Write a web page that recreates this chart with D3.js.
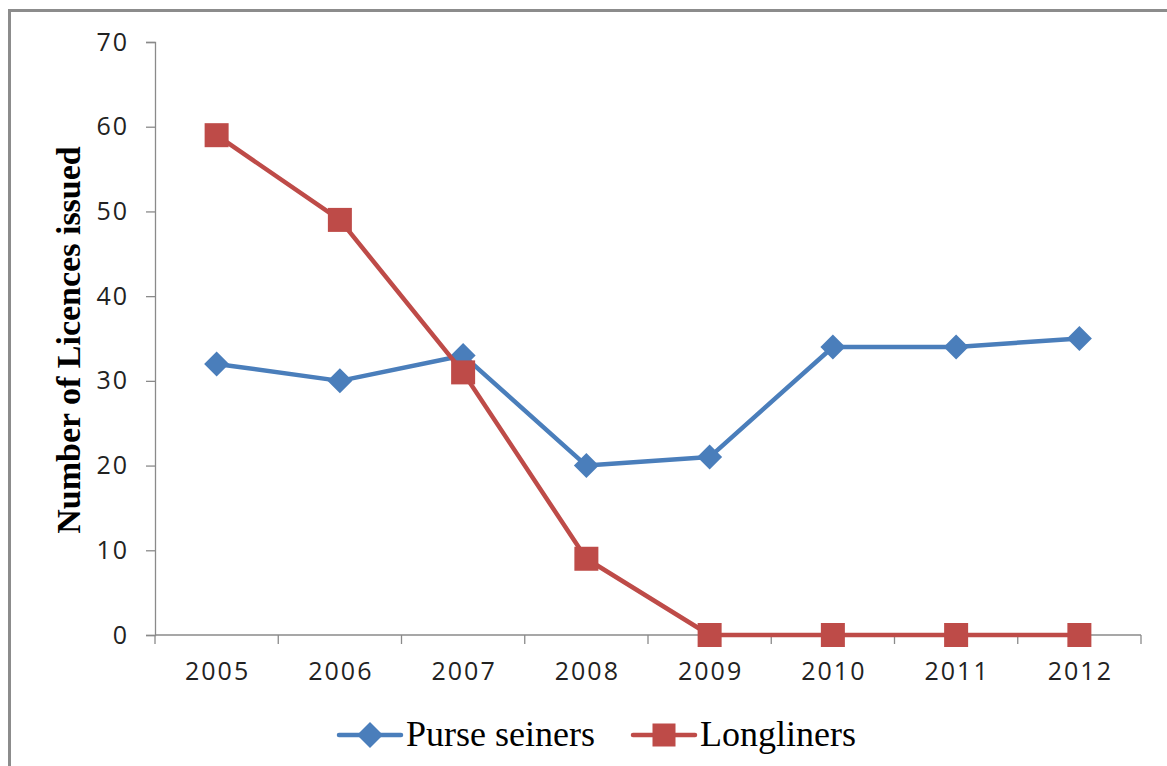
<!DOCTYPE html>
<html>
<head>
<meta charset="utf-8">
<script src="https://cdn.jsdelivr.net/npm/d3@7"></script>
<style>
  html, body { margin: 0; padding: 0; background: #fff; }
  svg { display: block; }
</style>
</head>
<body>
<svg id="chart" width="1167" height="766"></svg>
<script>
// Fishing licences issued per year, by vessel type
const years = ["2005", "2006", "2007", "2008", "2009", "2010", "2011", "2012"];
const purseSeiners = [32, 30, 33, 20, 21, 34, 34, 35];
const longliners = [59, 49, 31, 9, 0, 0, 0, 0];
const yTicks = [0, 10, 20, 30, 40, 50, 60, 70];

const seriesList = [
  { name: "Purse seiners", values: purseSeiners, color: "#4A7EBB", marker: "diamond" },
  { name: "Longliners", values: longliners, color: "#BE4B48", marker: "square" }
];

const svg = d3.select("#chart");
const W = 1167, H = 766;
const plot = { left: 155, right: 1141, top: 42, bottom: 635 };

// outer frame
svg.append("rect")
  .attr("x", 9.5).attr("y", 10.5)
  .attr("width", W + 20).attr("height", H + 20)
  .attr("fill", "none").attr("stroke", "#8c8c8c").attr("stroke-width", 3);

const x = d3.scaleBand().domain(years).range([plot.left, plot.right]);
const y = d3.scaleLinear().domain([0, 70]).range([plot.bottom, plot.top]);

const axisColor = "#8a8a8a";
const tickFont = "'Open Sans', 'Noto Sans', sans-serif";
const serif = "'Liberation Serif', 'Times New Roman', serif";

// y axis
const yAxis = svg.append("g")
  .attr("transform", `translate(${plot.left},0)`)
  .call(d3.axisLeft(y).tickValues(yTicks).tickSize(9).tickPadding(17).tickFormat(d3.format("d")));
yAxis.select(".domain").attr("stroke", axisColor).attr("stroke-width", 1.3);
yAxis.selectAll(".tick line").attr("stroke", axisColor).attr("stroke-width", 1.3);
yAxis.selectAll(".tick text")
  .attr("font-family", tickFont).attr("font-size", 25).attr("fill", "#222")
  .attr("letter-spacing", 2);

// x axis: ticks sit on band boundaries, labels at band centres
const xAxisG = svg.append("g").attr("transform", `translate(0,${plot.bottom})`);
xAxisG.append("line")
  .attr("x1", plot.left).attr("x2", plot.right)
  .attr("stroke", axisColor).attr("stroke-width", 1.3);
const boundaries = years.map(d => x(d)).concat([x(years[years.length - 1]) + x.bandwidth()]);
xAxisG.selectAll("line.tick")
  .data(boundaries).enter().append("line")
  .attr("class", "tick")
  .attr("x1", d => d).attr("x2", d => d)
  .attr("y1", 0).attr("y2", 9)
  .attr("stroke", axisColor).attr("stroke-width", 1.3);
xAxisG.selectAll("text")
  .data(years).enter().append("text")
  .attr("x", d => x(d) + x.bandwidth() / 2 + 1)
  .attr("y", 45)
  .attr("text-anchor", "middle")
  .attr("font-family", tickFont).attr("font-size", 25).attr("fill", "#222")
  .attr("letter-spacing", 2)
  .text(d => d);

// y axis title
svg.append("text")
  .attr("transform", `translate(80,340) rotate(-90)`)
  .attr("text-anchor", "middle")
  .attr("font-family", serif)
  .attr("font-weight", "bold").attr("font-size", 34).attr("fill", "#000")
  .text("Number of Licences issued");

const cx = d => x(d) + x.bandwidth() / 2;

function drawMarker(g, mx, my, kind, color, size) {
  if (kind === "diamond") {
    const r = size / 2;
    g.append("path")
      .attr("d", `M${mx},${my - r}L${mx + r},${my}L${mx},${my + r}L${mx - r},${my}Z`)
      .attr("fill", color);
  } else {
    const s = size;
    g.append("rect")
      .attr("x", mx - s / 2).attr("y", my - s / 2)
      .attr("width", s).attr("height", s)
      .attr("fill", color);
  }
}

const line = d3.line().x(d => cx(d.year)).y(d => y(d.value));

seriesList.forEach(s => {
  const pts = years.map((yr, i) => ({ year: yr, value: s.values[i] }));
  const g = svg.append("g");
  g.append("path")
    .datum(pts)
    .attr("d", line)
    .attr("fill", "none")
    .attr("stroke", s.color)
    .attr("stroke-width", 4.5)
    .attr("stroke-linejoin", "round");
  pts.forEach(p => drawMarker(g, cx(p.year), y(p.value), s.marker, s.color, s.marker === "diamond" ? 25 : 24));
});

// legend
const legend = svg.append("g");
const legendItems = [
  { s: seriesList[0], x0: 339 },
  { s: seriesList[1], x0: 633 }
];
legendItems.forEach(({ s, x0 }) => {
  const ly = 735;
  legend.append("line")
    .attr("x1", x0).attr("x2", x0 + 62)
    .attr("y1", ly).attr("y2", ly)
    .attr("stroke", s.color).attr("stroke-width", 4.5).attr("stroke-linecap", "round");
  drawMarker(legend, x0 + 31, ly, s.marker, s.color, s.marker === "diamond" ? 26 : 23);
  legend.append("text")
    .attr("x", x0 + 67).attr("y", ly + 11)
    .attr("font-family", serif)
    .attr("font-size", 36).attr("fill", "#000")
    .text(s.name);
});
</script>
</body>
</html>
